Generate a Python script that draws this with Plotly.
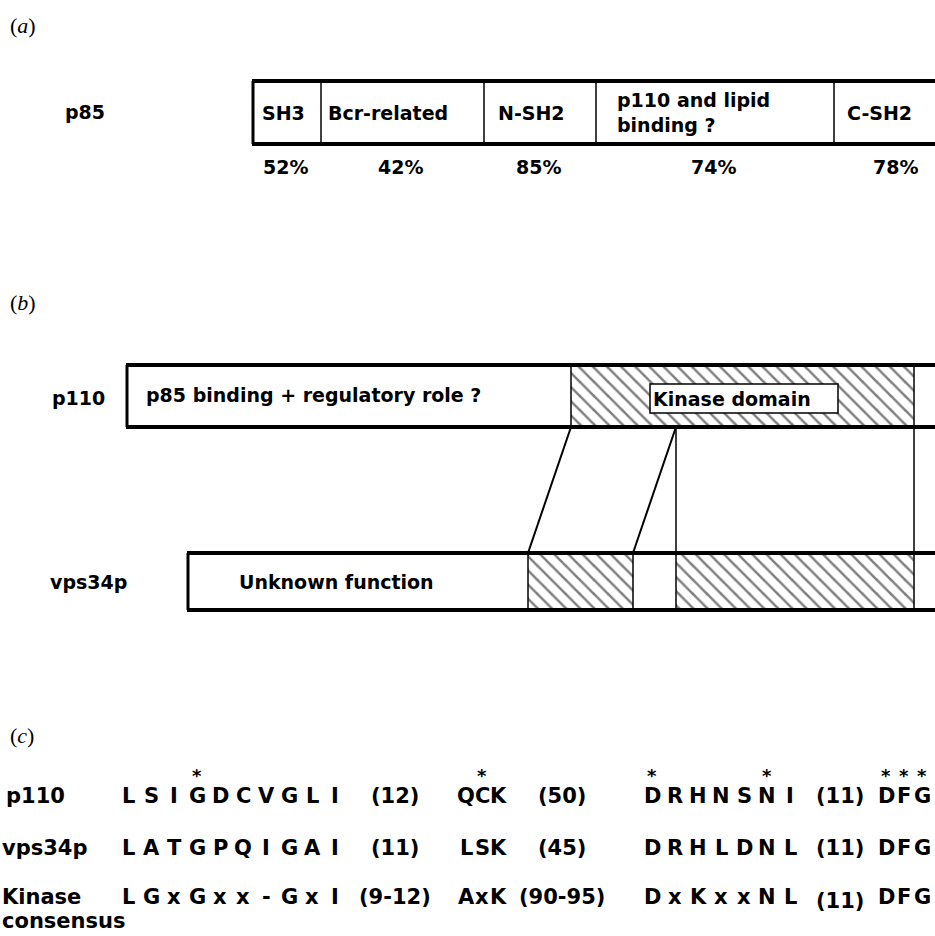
import plotly.graph_objects as go

# ---------------- data ----------------
# (a) p85 domains (schematic positions along the protein, drawing units)
p85_domains = ["SH3", "Bcr-related", "N-SH2", "p110 and lipid<br>binding ?", "C-SH2"]
p85_bounds = [253, 321, 484, 596, 834, 960]
p85_identity = ["52%", "42%", "85%", "74%", "78%"]

# (b) p110 and vps34p segments
p110_bounds = [127, 571, 914, 960]
p110_hatched = [False, True, False]
vps_bounds = [188, 528, 633, 676, 914, 960]
vps_hatched = [False, True, False, True, False]
kinase_box = [650, 838]
# homologous boundaries: (p110 position, vps34p position)
links = [(571, 528), (676, 633), (676, 676), (914, 914)]

# (c) sequence alignment
row_labels = [["p110"], ["vps34p"], ["Kinase", "consensus"]]
motif1 = [list("LSIGDCVGLI"), list("LATGPQIGAI"), list("LGxGxx-GxI")]
gap1 = ["(12)", "(11)", "(9-12)"]
motif2 = [list("QCK"), list("LSK"), list("AxK")]
gap2 = ["(50)", "(45)", "(90-95)"]
motif3 = [list("DRHNSNI"), list("DRHLDNL"), list("DxKxxNL")]
gap3 = ["(11)", "(11)", "(11)"]
motif4 = [list("DFG"), list("DFG"), list("DFG")]
# conserved residues marked with * (motif index, residue index)
stars = [(1, 3), (2, 1), (3, 0), (3, 5), (4, 0), (4, 1), (4, 2)]

# ---------------- layout helpers ----------------
W, H = 935, 936
SANS = "DejaVu Sans"
SERIF = "Liberation Serif"
FS = 19
FSC = 21

fig = go.Figure()
shapes = []
ann = []


def text(x, y, s, size=FS, xanchor="left", family=SANS, weight="bold", yanchor="middle", xshift=0):
    ann.append(dict(x=x, y=y, text=s, showarrow=False, xanchor=xanchor, yanchor=yanchor,
                    align="left", xref="x", yref="y", xshift=xshift,
                    font=dict(family=family, size=size, color="black", weight=weight)))


def line(x0, y0, x1, y1, w):
    shapes.append(dict(type="line", x0=x0, y0=y0, x1=x1, y1=y1, xref="x", yref="y",
                       line=dict(color="black", width=w), layer="above"))


def hatch(x0, x1, y0, y1):
    fig.add_trace(go.Scatter(
        x=[x0, x1, x1, x0, x0], y=[y0, y0, y1, y1, y0], mode="lines",
        fill="toself", fillcolor="white", line=dict(width=0),
        fillpattern=dict(shape="\\", size=10, solidity=0.25, fgcolor="black", bgcolor="white"),
        hoverinfo="skip", showlegend=False))


def box(bounds, y0, y1, hatched=None):
    if hatched:
        for i, h in enumerate(hatched):
            if h:
                hatch(bounds[i], bounds[i + 1], y0, y1)
    line(bounds[0] - 1, y0, bounds[-1], y0, 4)
    line(bounds[0] - 1, y1, bounds[-1], y1, 4)
    line(bounds[0], y0, bounds[0], y1, 3)
    for b in bounds[1:-1]:
        line(b, y0, b, y1, 1.5)


# panel labels
for lab, y in [("a", 25), ("b", 302), ("c", 735)]:
    text(8, y, "(<i>%s</i>)" % lab, size=22, family=SERIF, weight="normal")

# ---- (a) ----
A0, A1 = 81, 144
text(63, 112, "p85")
box(p85_bounds, A0, A1)
pads = [7, 5, 12, 19, 11]
for i, d in enumerate(p85_domains):
    text(p85_bounds[i] + pads[i], (A0 + A1) / 2, d)
    text((p85_bounds[i] + p85_bounds[i + 1]) / 2 - 2, 167, p85_identity[i], xanchor="center")

# ---- (b) ----
B0, B1 = 365, 427
V0, V1 = 553, 610
text(50, 398, "p110")
box(p110_bounds, B0, B1, p110_hatched)
shapes.append(dict(type="rect", x0=kinase_box[0], x1=kinase_box[1], y0=384, y1=413,
                   xref="x", yref="y", fillcolor="white",
                   line=dict(color="black", width=1.5), layer="above"))
text(kinase_box[0] + 1, 399, "Kinase domain")
text(144, 395, "p85 binding + regulatory role ?")

text(48, 582, "vps34p")
box(vps_bounds, V0, V1, vps_hatched)
text(237, 582, "Unknown function")
for (xp, xv) in links:
    line(xp, B1, xv, V0, 2 if xp != xv else 1.5)

# ---- (c) ----
rows_y = [796, 848, 897]
star_y = 775
motif_start = [128, 466, 652, 886]
motif_pitch = [23, 16, 23, 18]
gap_center = [395, 562, 840]
motifs = [motif1, motif2, motif3, motif4]
gaps = [gap1, gap2, gap3]
label_x = [4, 0, 0]

for r, y in enumerate(rows_y):
    for j, lab in enumerate(row_labels[r]):
        text(label_x[r], y + 24 * j, lab, size=FSC)
    for m in range(4):
        for k, ch in enumerate(motifs[m][r]):
            text(motif_start[m] + k * motif_pitch[m], y, ch, size=FSC, xanchor="center")
    for g in range(3):
        text(gap_center[g], y + (4 if r == 2 and g == 2 else 0), gaps[g][r], size=FSC, xanchor="center")

for (m, k) in stars:
    mi = m - 1
    text(motif_start[mi] + k * motif_pitch[mi], star_y, "*", size=18, xanchor="center")

fig.update_layout(
    width=W, height=H, autosize=False,
    margin=dict(l=0, r=0, t=0, b=0),
    paper_bgcolor="white", plot_bgcolor="white",
    xaxis=dict(range=[0, W], visible=False, fixedrange=True),
    yaxis=dict(range=[H, 0], visible=False, fixedrange=True),
    shapes=shapes, annotations=ann, showlegend=False,
)

fig.write_html("out.html", config={"displayModeBar": False},
               post_script="document.body.style.margin='0';document.body.style.overflow='hidden';")
